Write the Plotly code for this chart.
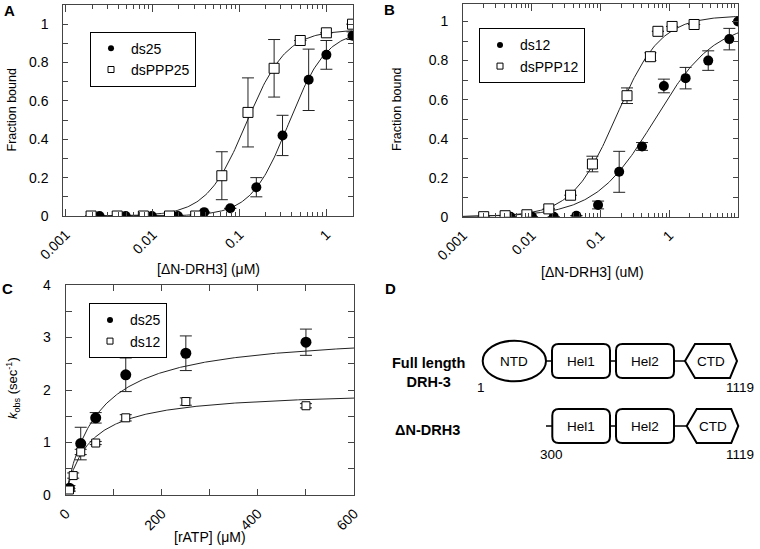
import numpy as np
import plotly.graph_objects as go

# ---------------- Panel A data ----------------
a_ds25_x = [0.00244, 0.00488, 0.00977, 0.0195, 0.0391, 0.0781, 0.156, 0.3125, 0.625, 1.0, 2.0]
a_ds25_y = [0.0, 0.0, 0.0, 0.0, 0.02, 0.04, 0.15, 0.42, 0.71, 0.84, 0.94]
a_ds25_err = [None, None, None, None, None, None, 0.05, 0.105, 0.16, 0.075, 0.02]
a_ppp25_x = [0.00195, 0.0039, 0.0078, 0.0156, 0.03125, 0.0625, 0.125, 0.25, 0.5, 1.0, 2.0]
a_ppp25_y = [0.0, 0.0, 0.0, 0.0, 0.0, 0.21, 0.54, 0.77, 0.915, 0.955, 1.0]
a_ppp25_err = [None, None, None, None, None, 0.125, 0.18, 0.15, None, None, None]
# Hill fit parameters (Bmax, K, n)
a_ds25_fit = (0.97, 0.37, 2.0)
a_ppp25_fit = (0.97, 0.12, 1.9)

# ---------------- Panel B data ----------------
b_ds12_x = [0.0049, 0.0101, 0.0209, 0.0446, 0.0922, 0.187, 0.402, 0.836, 1.73, 3.69, 7.48, 10.0]
b_ds12_y = [0.0, 0.0, 0.0, 0.005, 0.06, 0.23, 0.36, 0.67, 0.71, 0.80, 0.91, 1.0]
b_ds12_err = [None, None, None, None, 0.02, 0.105, 0.02, 0.035, 0.055, 0.05, 0.055, None]
b_ppp12_x = [0.002, 0.0041, 0.0085, 0.0177, 0.0367, 0.0763, 0.243, 0.532, 0.684, 1.1, 2.3]
b_ppp12_y = [0.0, 0.005, 0.01, 0.04, 0.11, 0.27, 0.62, 0.82, 0.95, 0.975, 0.985]
b_ppp12_err = [None, None, None, None, None, 0.04, 0.04, 0.02, None, None, None]
b_ds12_fit = (1.0, 0.62, 1.0)
b_ppp12_fit = (1.03, 0.17, 1.35)

# ---------------- Panel C data ----------------
c_ds25_x = [7.8, 31.25, 62.5, 125, 250, 500]
c_ds25_y = [0.13, 0.98, 1.47, 2.29, 2.70, 2.91]
c_ds25_err = [0.05, 0.31, 0.10, 0.32, 0.33, 0.25]
c_ds12_x = [7.8, 15.6, 31.25, 62.5, 125, 250, 500]
c_ds12_y = [0.095, 0.37, 0.82, 0.99, 1.47, 1.78, 1.70]
c_ds12_err = [0.03, 0.05, 0.05, 0.03, 0.06, 0.07, 0.04]
# Michaelis-Menten fit parameters (Vmax, Km)
c_ds25_fit = (3.11, 66.5)
c_ds12_fit = (2.0, 50.0)

# ---------------- Panel D data ----------------
full_domains = ["NTD", "Hel1", "Hel2", "CTD"]
dn_domains = ["Hel1", "Hel2", "CTD"]
full_residues = ["1", "1119"]
dn_residues = ["300", "1119"]
row_labels = ["Full length<br>DRH-3", "ΔN-DRH3"]

# axis titles
a_xtitle, b_xtitle, c_xtitle = "[ΔN-DRH3] (μM)", "[ΔN-DRH3] (uM)", "[rATP] (μM)"
ab_ytitle = "Fraction bound"
c_ytitle = "<i>k</i><sub>obs</sub> (sec<sup>-1</sup>)"

FONT = "Liberation Sans, Arial, sans-serif"
INK = "#222222"
W, H = 760, 549


def hill(x, p):
    b, k, n = p
    x = np.asarray(x)
    return b * x ** n / (k ** n + x ** n)


def mm(x, p):
    v, k = p
    x = np.asarray(x)
    return v * x / (k + x)


fig = go.Figure()


def add_points(x, y, err, name, filled, xa, ya, size, legend):
    fig.add_trace(go.Scatter(
        x=x, y=y, mode="markers", name=name, xaxis=xa, yaxis=ya, showlegend=False,
        marker=dict(symbol="circle" if filled else "square", size=size,
                    color="black" if filled else "white",
                    line=dict(color="black", width=0 if filled else 1)),
        error_y=dict(type="data", array=err, visible=True, color=INK, thickness=1, width=6),
    ))
    # small legend symbol
    fig.add_trace(go.Scatter(
        x=[None], y=[None], mode="markers", name=name, xaxis=xa, yaxis=ya, legend=legend,
        marker=dict(symbol="circle" if filled else "square", size=6,
                    color="black" if filled else "white",
                    line=dict(color="black", width=0 if filled else 1)),
    ))


def add_curve(xs, ys, xa, ya):
    fig.add_trace(go.Scatter(x=xs, y=ys, mode="lines", xaxis=xa, yaxis=ya, showlegend=False,
                             line=dict(color=INK, width=1), hoverinfo="skip"))


# Panel A
xa_fit = np.logspace(np.log10(0.002), np.log10(2.0), 200)
add_curve(xa_fit, hill(xa_fit, a_ds25_fit), "x", "y")
add_curve(xa_fit, hill(xa_fit, a_ppp25_fit), "x", "y")
add_points(a_ds25_x, a_ds25_y, a_ds25_err, "ds25", True, "x", "y", 10, "legend")
add_points(a_ppp25_x, a_ppp25_y, a_ppp25_err, "dsPPP25", False, "x", "y", 10, "legend")

# Panel B
xb_fit = np.logspace(-3, 1, 200)
add_curve(xb_fit, hill(xb_fit, b_ds12_fit), "x2", "y2")
add_curve(xb_fit, hill(xb_fit, b_ppp12_fit), "x2", "y2")
add_points(b_ds12_x, b_ds12_y, b_ds12_err, "ds12", True, "x2", "y2", 10, "legend2")
add_points(b_ppp12_x, b_ppp12_y, b_ppp12_err, "dsPPP12", False, "x2", "y2", 10, "legend2")

# Panel C
xc_fit = np.linspace(4, 600, 300)
add_curve(xc_fit, mm(xc_fit, c_ds25_fit), "x3", "y3")
add_curve(xc_fit, mm(xc_fit, c_ds12_fit), "x3", "y3")
add_points(c_ds25_x, c_ds25_y, c_ds25_err, "ds25", True, "x3", "y3", 11, "legend3")
add_points(c_ds12_x, c_ds12_y, c_ds12_err, "ds12", False, "x3", "y3", 8, "legend3")


def px(x):
    return x / W


def py(y):
    return 1 - y / H


base_axis = dict(showline=True, linecolor="#444", linewidth=1, mirror="allticks", automargin=False,
                 ticks="inside", tickcolor="#444", ticklen=5, showgrid=False, zeroline=False,
                 tickfont=dict(family=FONT, size=14, color="black"))

log_minor = [k * 10.0 ** e for e in range(-3, 1) for k in range(2, 10)]

legend_style = dict(xanchor="left", yanchor="top", bgcolor="white", bordercolor="black",
                    borderwidth=1, font=dict(size=14, family=FONT, color="black"),
                    tracegroupgap=0, itemwidth=30)

fig.update_layout(
    width=W, height=H, margin=dict(l=0, r=0, t=0, b=0, autoexpand=False),
    paper_bgcolor="white", plot_bgcolor="white",
    font=dict(family=FONT, color="black"),
    xaxis=dict(base_axis, type="log", range=[-3.03, 0.31], domain=[px(63.3), px(353.3)], anchor="y",
               tickvals=[0.001, 0.01, 0.1, 1], ticktext=["0.001", "0.01", "0.1", "1"],
               tickangle=-45, ticklen=7, ticklabelstandoff=4,
               minor=dict(ticks="inside", ticklen=4, tickcolor="#444", tickvals=log_minor)),
    yaxis=dict(base_axis, range=[0, 1.1], domain=[py(216), py(5)], anchor="x",
               tickvals=[0, 0.2, 0.4, 0.6, 0.8, 1.0], ticktext=["0", "0.2", "0.4", "0.6", "0.8", "1"],
               ticklabelstandoff=11,
               minor=dict(ticks="inside", ticklen=5, tickcolor="#444", tickvals=[0.1, 0.3, 0.5, 0.7, 0.9])),
    xaxis2=dict(base_axis, type="log", range=[-3, 1], domain=[px(463), px(738)], anchor="y2",
                tickvals=[0.001, 0.01, 0.1, 1], ticktext=["0.001", "0.01", "0.1", "1"],
                tickangle=-45, ticklen=7, ticklabelstandoff=4,
                minor=dict(ticks="inside", ticklen=4, tickcolor="#444", tickvals=log_minor)),
    yaxis2=dict(base_axis, range=[0, 1.09], domain=[py(216.7), py(4)], anchor="x2",
                tickvals=[0, 0.2, 0.4, 0.6, 0.8, 1.0], ticktext=["0", "0.2", "0.4", "0.6", "0.8", "1"],
                ticklabelstandoff=11,
                minor=dict(ticks="inside", ticklen=5, tickcolor="#444", tickvals=[0.1, 0.3, 0.5, 0.7, 0.9])),
    xaxis3=dict(base_axis, range=[0, 600], domain=[px(65.7), px(354)], anchor="y3",
                tickvals=[0, 200, 400, 600], tickangle=-45, ticklen=6, ticklabelstandoff=4,
                minor=dict(ticks="inside", ticklen=6, tickcolor="#444", tickvals=[100, 300, 500])),
    yaxis3=dict(base_axis, range=[0, 4], domain=[py(495), py(285)], anchor="x3",
                tickvals=[0, 1, 2, 3, 4], ticklen=6, ticklabelstandoff=11,
                minor=dict(ticks="inside", ticklen=6, tickcolor="#444", tickvals=[0.5, 1.5, 2.5, 3.5])),
    xaxis4=dict(domain=[0.5, 1.0], range=[380, 760], visible=False, anchor="y4", fixedrange=True,
                automargin=False),
    yaxis4=dict(domain=[0.0, 0.5], range=[549, 274.5], visible=False, anchor="x4", fixedrange=True,
                automargin=False),
    legend=dict(legend_style, x=px(90), y=py(31.7)),
    legend2=dict(legend_style, x=px(479), y=py(28.3)),
    legend3=dict(legend_style, x=px(89), y=py(303.3)),
)


def paper_text(text, x, y, size, angle=0, bold=False):
    fig.add_annotation(text=f"<b>{text}</b>" if bold else text, x=px(x), y=py(y),
                       xref="paper", yref="paper", showarrow=False, textangle=angle,
                       xanchor="center", yanchor="middle",
                       font=dict(size=size, family=FONT, color="black"))


# Panel letters
for letter, (lx, ly) in zip(["A", "B", "C", "D"], [(9.5, 11), (389.5, 10), (7.5, 288), (390.5, 288)]):
    paper_text(letter, lx, ly, 15, bold=True)

# Axis titles
paper_text(a_xtitle, 208, 269, 14)
paper_text(b_xtitle, 592, 271.5, 14)
paper_text(c_xtitle, 210, 537, 14)
paper_text(ab_ytitle, 11, 110.5, 12.5, angle=-90)
paper_text(ab_ytitle, 397, 110, 12.5, angle=-90)
paper_text(c_ytitle, 13, 388, 13, angle=-90)


# ---------------- Panel D: domain diagram ----------------
def rrect(x0, y0, x1, y1, r=6.5):
    return (f"M{x0 + r},{y0} L{x1 - r},{y0} Q{x1},{y0} {x1},{y0 + r} L{x1},{y1 - r} "
            f"Q{x1},{y1} {x1 - r},{y1} L{x0 + r},{y1} Q{x0},{y1} {x0},{y1 - r} "
            f"L{x0},{y0 + r} Q{x0},{y0} {x0 + r},{y0} Z")


def hexa(x0, y0, x1, y1, tip=10):
    ym = (y0 + y1) / 2
    return (f"M{x0},{ym} L{x0 + tip},{y0} L{x1 - tip + 3},{y0} L{x1},{ym} "
            f"L{x1 - tip + 3},{y1} L{x0 + tip},{y1} Z")


box_line = dict(color="black", width=2)
link_line = dict(color="black", width=1.5)


def dshape(**kw):
    fig.add_shape(xref="x4", yref="y4", **kw)


def dtext(text, x, y, size=13.5, bold=False, xanchor="center"):
    fig.add_annotation(text=f"<b>{text}</b>" if bold else text, x=x, y=y, xref="x4", yref="y4",
                       showarrow=False, xanchor=xanchor, yanchor="middle",
                       font=dict(size=size, family=FONT, color="black"))


# Row 1: full length
r1_top, r1_bot = 344.0, 378.0
r1_mid = (r1_top + r1_bot) / 2
dshape(type="line", x0=546, x1=552, y0=r1_mid, y1=r1_mid, line=link_line)
dshape(type="line", x0=610, x1=616, y0=r1_mid, y1=r1_mid, line=link_line)
dshape(type="line", x0=674, x1=685, y0=r1_mid, y1=r1_mid, line=link_line)
dshape(type="circle", x0=482.7, x1=546, y0=r1_mid - 20.3, y1=r1_mid + 20.3, line=box_line,
       fillcolor="white")
dshape(type="path", path=rrect(552, r1_top, 610, r1_bot), line=box_line, fillcolor="white")
dshape(type="path", path=rrect(616, r1_top, 674, r1_bot), line=box_line, fillcolor="white")
dshape(type="path", path=hexa(685, r1_top, 737, r1_bot), line=box_line, fillcolor="white")
for name, cx in zip(full_domains, [514.3, 581, 645, 711]):
    dtext(name, cx, r1_mid)
dtext(full_residues[0], 480.5, 387)
dtext(full_residues[1], 756, 387, xanchor="right")
dtext(row_labels[0], 428.5, 372, size=14.5, bold=True)

# Row 2: delta N
r2_top, r2_bot = 409.0, 443.0
r2_mid = (r2_top + r2_bot) / 2
dshape(type="line", x0=546, x1=552.3, y0=r2_mid, y1=r2_mid, line=link_line)
dshape(type="line", x0=610, x1=616, y0=r2_mid, y1=r2_mid, line=link_line)
dshape(type="line", x0=674, x1=686.7, y0=r2_mid, y1=r2_mid, line=link_line)
dshape(type="path", path=rrect(552.3, r2_top, 610, r2_bot), line=box_line, fillcolor="white")
dshape(type="path", path=rrect(616, r2_top, 674, r2_bot), line=box_line, fillcolor="white")
dshape(type="path", path=hexa(686.7, r2_top, 738.3, r2_bot), line=box_line, fillcolor="white")
for name, cx in zip(dn_domains, [581, 645, 712.5]):
    dtext(name, cx, r2_mid)
dtext(dn_residues[0], 551.7, 454)
dtext(dn_residues[1], 756, 454, xanchor="right")
dtext(row_labels[1], 427.5, 430, size=14.5, bold=True)

fig.write_html(
    "out.html",
    config={"displayModeBar": False},
    post_script="document.body.style.margin='0px';document.body.style.overflow='hidden';",
)
